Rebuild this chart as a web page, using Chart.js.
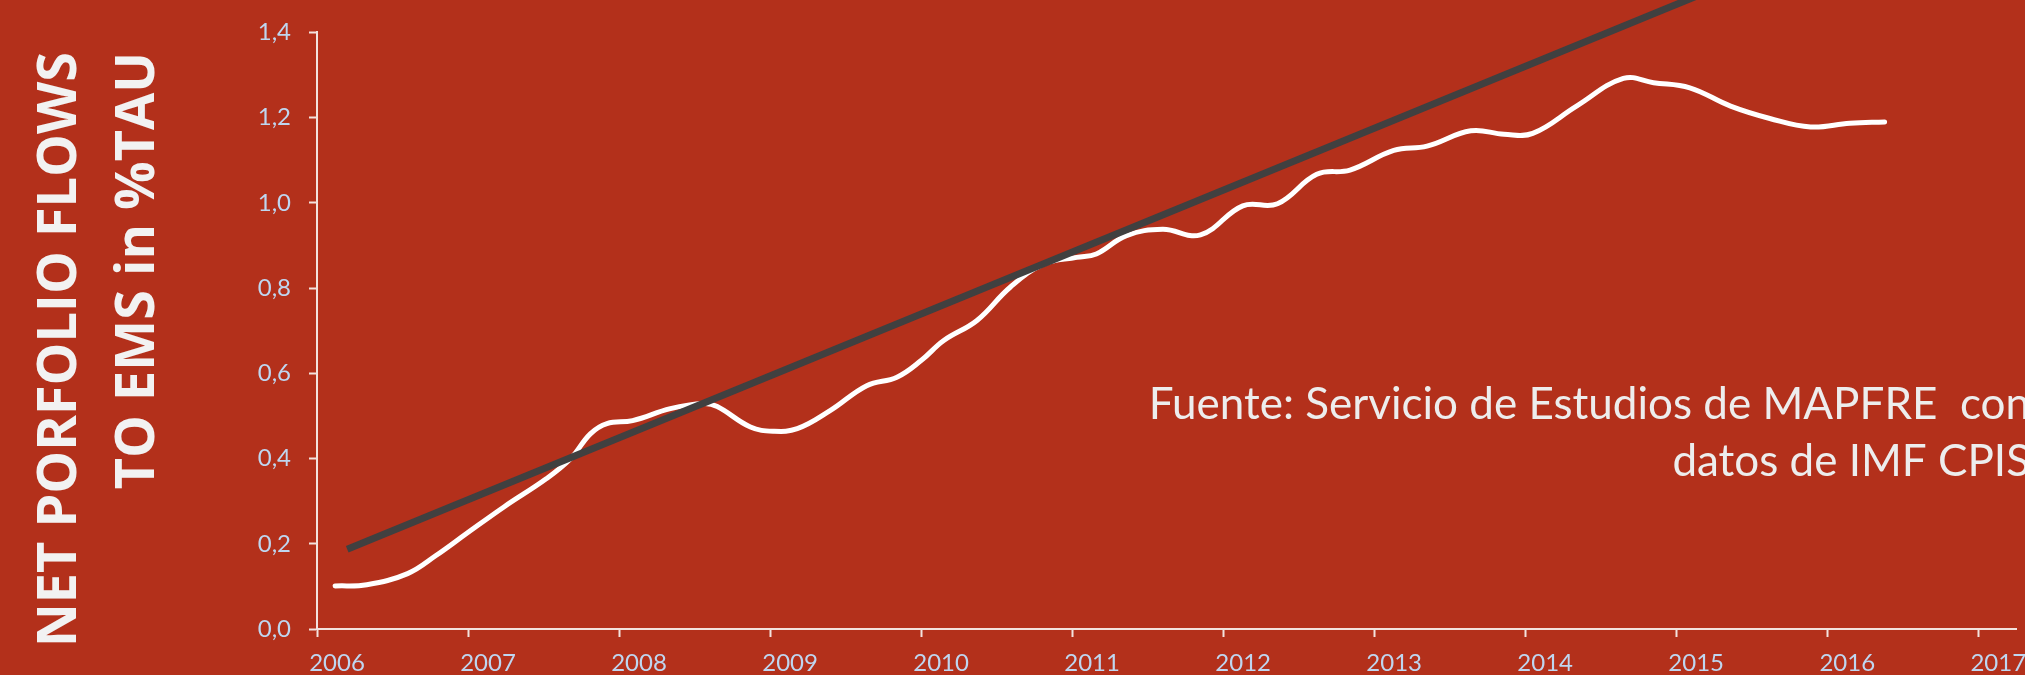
<!DOCTYPE html>
<html>
<head>
<meta charset="utf-8">
<script src="https://cdn.jsdelivr.net/npm/chart.js@4.4.1/dist/chart.umd.min.js"></script>
<style>
  html, body { margin: 0; padding: 0; background: #b3301b; }
  canvas { display: block; }
</style>
</head>
<body>
<canvas id="c" width="2025" height="675"></canvas>
<script>
// ---- Data ----
const flowYears = [2006.12, 2006.33, 2006.60, 2006.79, 2006.99, 2007.24, 2007.52, 2007.68, 2007.81, 2007.92,
  2008.09, 2008.34, 2008.56, 2008.65, 2008.87, 2009.02, 2009.18, 2009.40, 2009.64, 2009.84,
  2010.00, 2010.15, 2010.37, 2010.59, 2010.81, 2011.03, 2011.16, 2011.36, 2011.60, 2011.85,
  2012.13, 2012.36, 2012.62, 2012.84, 2013.13, 2013.35, 2013.64, 2013.86, 2014.05, 2014.34,
  2014.65, 2014.85, 2015.09, 2015.36, 2015.62, 2015.89, 2016.15, 2016.38];
const flowValues = [0.101, 0.104, 0.130, 0.173, 0.224, 0.287, 0.353, 0.400, 0.458, 0.482,
  0.489, 0.517, 0.529, 0.522, 0.474, 0.464, 0.470, 0.513, 0.571, 0.591,
  0.630, 0.677, 0.724, 0.802, 0.856, 0.872, 0.880, 0.923, 0.938, 0.925,
  0.993, 0.998, 1.067, 1.077, 1.123, 1.133, 1.169, 1.161, 1.163, 1.227,
  1.292, 1.282, 1.270, 1.227, 1.198, 1.178, 1.187, 1.190];
const trendYears = [2006.20, 2016.38];
const trendValues = [0.187, 1.666];
const xTickYears = [2006, 2007, 2008, 2009, 2010, 2011, 2012, 2013, 2014, 2015, 2016, 2017];
const yTickValues = [0, 0.2, 0.4, 0.6, 0.8, 1.0, 1.2, 1.4];
const titleLines = ['NET PORFOLIO FLOWS', 'TO EMS in %TAU'];
const sourceLines = ['Fuente: Servicio de Estudios de MAPFRE  con', 'datos de IMF CPIS'];

// ---- Styles ----
const BG = '#b3301b';
const AXIS = '#f3e2de';
const TICKLABEL = '#bfd6f0';

const toPoints = (xs, ys) => xs.map((x, i) => ({ x: x, y: ys[i] }));

const backgroundPlugin = {
  id: 'bg',
  beforeDraw(chart) {
    const ctx = chart.ctx;
    ctx.save();
    ctx.fillStyle = BG;
    ctx.fillRect(0, 0, chart.width, chart.height);
    ctx.restore();
  }
};

const textPlugin = {
  id: 'texts',
  afterDraw(chart) {
    const ctx = chart.ctx;
    ctx.save();
    // vertical title
    ctx.fillStyle = '#f2f2f2';
    ctx.font = 'bold 54px "Open Sans"';
    ctx.textAlign = 'right';
    ctx.textBaseline = 'alphabetic';
    const baseXs = [76, 154];
    titleLines.forEach((line, i) => {
      ctx.save();
      ctx.translate(baseXs[i], 52);
      ctx.rotate(-Math.PI / 2);
      ctx.fillText(line, 0, 0);
      ctx.restore();
    });
    // source note
    ctx.fillStyle = '#ededed';
    ctx.font = '44px Lato';
    ctx.textAlign = 'right';
    ctx.fillText(sourceLines[0], 2030, 419);
    ctx.fillText(sourceLines[1], 2030, 476);
    ctx.restore();
  }
};

new Chart(document.getElementById('c'), {
  type: 'line',
  data: {
    datasets: [
      {
        label: 'Tendencia',
        data: toPoints(trendYears, trendValues),
        borderColor: '#404040',
        borderWidth: 7,
        borderCapStyle: 'butt',
        pointRadius: 0,
        tension: 0,
        clip: false,
        order: 0
      },
      {
        label: 'Net portfolio flows',
        data: toPoints(flowYears, flowValues),
        borderColor: '#ffffff',
        borderWidth: 5,
        borderCapStyle: 'round',
        borderJoinStyle: 'round',
        pointRadius: 0,
        tension: 0.4,
        order: 1
      }
    ]
  },
  options: {
    responsive: false,
    animation: false,
    devicePixelRatio: 1,
    layout: { padding: { left: 200, right: 9, top: 31, bottom: 0 } },
    plugins: {
      legend: { display: false },
      tooltip: { enabled: false },
      title: { display: false }
    },
    scales: {
      x: {
        type: 'linear',
        min: 2006,
        max: 2017.25,
        afterBuildTicks(axis) { axis.ticks = xTickYears.map(v => ({ value: v })); },
        afterFit(axis) { axis.height = 46; },
        grid: { drawOnChartArea: false, drawTicks: true, tickLength: 8, tickColor: AXIS, tickWidth: 2 },
        border: { color: AXIS, width: 2 },
        ticks: {
          color: TICKLABEL,
          font: { family: 'Lato', size: 24 },
          padding: 12,
          labelOffset: 20,
          maxRotation: 0,
          autoSkip: false,
          callback: v => String(v)
        }
      },
      y: {
        type: 'linear',
        min: 0,
        max: 1.4,
        afterBuildTicks(axis) { axis.ticks = yTickValues.map(v => ({ value: v })); },
        afterFit(axis) { axis.width = 117; },
        grid: { drawOnChartArea: false, drawTicks: true, tickLength: 8, tickColor: AXIS, tickWidth: 2 },
        border: { color: AXIS, width: 2 },
        ticks: {
          color: TICKLABEL,
          font: { family: 'Lato', size: 24 },
          padding: 18,
          autoSkip: false,
          callback: v => Number(v).toFixed(1).replace('.', ',')
        }
      }
    }
  },
  plugins: [backgroundPlugin, textPlugin]
});
</script>
</body>
</html>
